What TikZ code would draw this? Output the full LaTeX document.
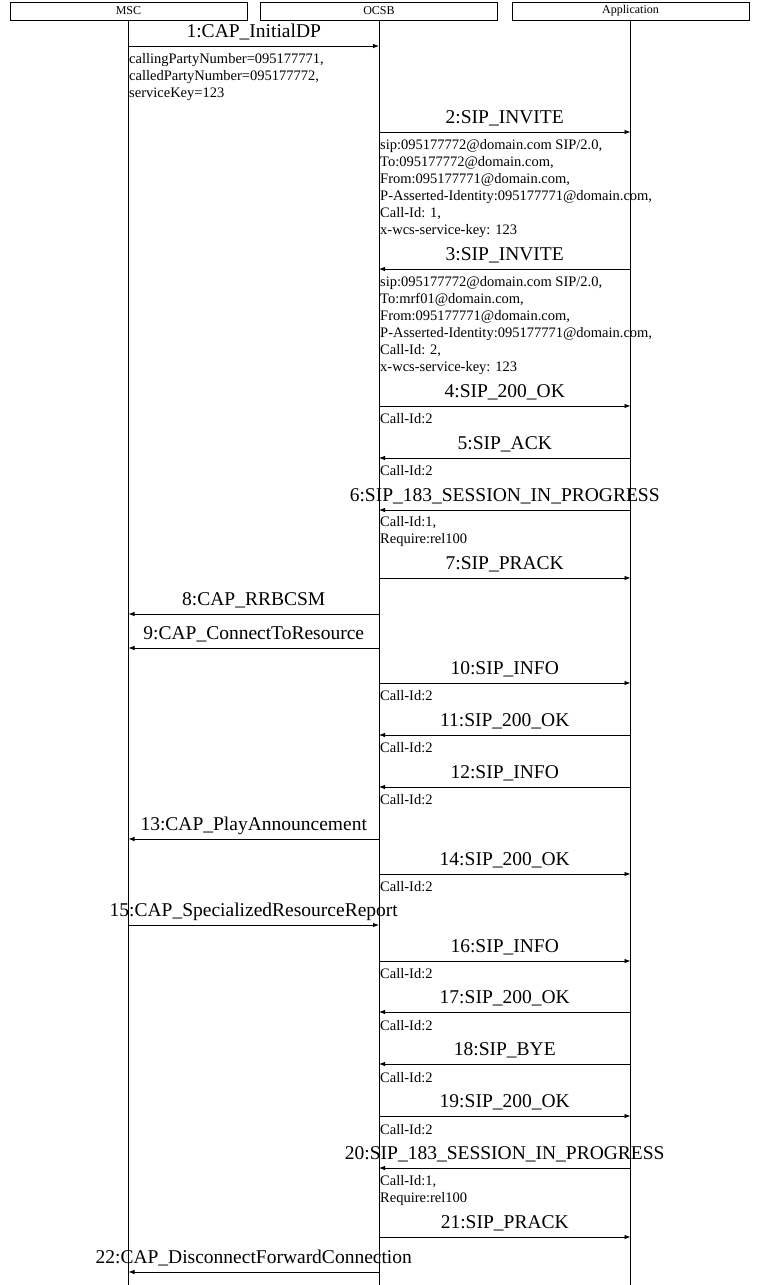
\documentclass[tikz,border=0pt]{standalone}
\usepackage{fontspec}
\setmainfont{Liberation Serif}
\usetikzlibrary{arrows.meta}

\begin{document}
\begin{tikzpicture}[x=1pt,y=-1pt,
 hd/.style={draw,line width=0.8pt,minimum width=237pt,minimum height=18pt,inner sep=0pt,font=\fontsize{12}{14}\selectfont},
 ll/.style={line width=0.8pt},
 ar/.style={-{Latex[length=6pt,width=4.5pt]},line width=0.8pt},
 lb/.style={anchor=base,yshift=9pt,inner sep=0pt,font=\fontsize{19.5}{22}\selectfont},
 nt/.style={anchor=north west,inner sep=0pt,align=left,font=\fontsize{14.5}{17}\selectfont}]
\useasboundingbox[fill=white] (0,0) rectangle (762,1285);
% lifelines
\node[hd] (msc) at (128.5,11) {MSC};
\node[hd] (ocsb) at (379,11) {OCSB};
\node[hd] (app) at (630.5,11) {Application};
\draw[ll] (msc.south) -- (msc |- 0,1285);
\draw[ll] (ocsb.south) -- (ocsb |- 0,1285);
\draw[ll] (app.south) -- (app |- 0,1285);
% messages
\draw[ar] (msc |- 0,46) -- node[lb]{1:CAP\_InitialDP} (ocsb |- 0,46);
\node[nt] (n1) at (129,53) {callingPartyNumber=095177771,\\calledPartyNumber=095177772,\\serviceKey=123};
\draw[ar] (ocsb |- 0,132) -- node[lb]{2:SIP\_INVITE} (app |- 0,132);
\node[nt] (n2) at (380,139) {sip:095177772@domain.com SIP/2.0,\\To:095177772@domain.com,\\From:095177771@domain.com,\\P-Asserted-Identity:095177771@domain.com,\\Call-Id: 1,\\x-wcs-service-key: 123};
\draw[ar] (app |- 0,269) -- node[lb]{3:SIP\_INVITE} (ocsb |- 0,269);
\node[nt] (n3) at (380,276) {sip:095177772@domain.com SIP/2.0,\\To:mrf01@domain.com,\\From:095177771@domain.com,\\P-Asserted-Identity:095177771@domain.com,\\Call-Id: 2,\\x-wcs-service-key: 123};
\draw[ar] (ocsb |- 0,406) -- node[lb]{4:SIP\_200\_OK} (app |- 0,406);
\node[nt] (n4) at (380,413) {Call-Id:2};
\draw[ar] (app |- 0,458) -- node[lb]{5:SIP\_ACK} (ocsb |- 0,458);
\node[nt] (n5) at (380,465) {Call-Id:2};
\draw[ar] (app |- 0,510) -- node[lb]{6:SIP\_183\_SESSION\_IN\_PROGRESS} (ocsb |- 0,510);
\node[nt] (n6) at (380,516) {Call-Id:1,\\Require:rel100};
\draw[ar] (ocsb |- 0,578) -- node[lb]{7:SIP\_PRACK} (app |- 0,578);
\draw[ar] (ocsb |- 0,614) -- node[lb]{8:CAP\_RRBCSM} (msc |- 0,614);
\draw[ar] (ocsb |- 0,648) -- node[lb]{9:CAP\_ConnectToResource} (msc |- 0,648);
\draw[ar] (ocsb |- 0,683) -- node[lb]{10:SIP\_INFO} (app |- 0,683);
\node[nt] (n10) at (380,690) {Call-Id:2};
\draw[ar] (app |- 0,735) -- node[lb]{11:SIP\_200\_OK} (ocsb |- 0,735);
\node[nt] (n11) at (380,742) {Call-Id:2};
\draw[ar] (app |- 0,787) -- node[lb]{12:SIP\_INFO} (ocsb |- 0,787);
\node[nt] (n12) at (380,794) {Call-Id:2};
\draw[ar] (ocsb |- 0,839) -- node[lb]{13:CAP\_PlayAnnouncement} (msc |- 0,839);
\draw[ar] (ocsb |- 0,874) -- node[lb]{14:SIP\_200\_OK} (app |- 0,874);
\node[nt] (n14) at (380,881) {Call-Id:2};
\draw[ar] (msc |- 0,925) -- node[lb]{15:CAP\_SpecializedResourceReport} (ocsb |- 0,925);
\draw[ar] (ocsb |- 0,961) -- node[lb]{16:SIP\_INFO} (app |- 0,961);
\node[nt] (n16) at (380,968) {Call-Id:2};
\draw[ar] (app |- 0,1012) -- node[lb]{17:SIP\_200\_OK} (ocsb |- 0,1012);
\node[nt] (n17) at (380,1020) {Call-Id:2};
\draw[ar] (app |- 0,1064) -- node[lb]{18:SIP\_BYE} (ocsb |- 0,1064);
\node[nt] (n18) at (380,1072) {Call-Id:2};
\draw[ar] (ocsb |- 0,1116) -- node[lb]{19:SIP\_200\_OK} (app |- 0,1116);
\node[nt] (n19) at (380,1124) {Call-Id:2};
\draw[ar] (app |- 0,1168) -- node[lb]{20:SIP\_183\_SESSION\_IN\_PROGRESS} (ocsb |- 0,1168);
\node[nt] (n20) at (380,1175) {Call-Id:1,\\Require:rel100};
\draw[ar] (ocsb |- 0,1237) -- node[lb]{21:SIP\_PRACK} (app |- 0,1237);
\draw[ar] (ocsb |- 0,1272) -- node[lb]{22:CAP\_DisconnectForwardConnection} (msc |- 0,1272);
\end{tikzpicture}
\end{document}
